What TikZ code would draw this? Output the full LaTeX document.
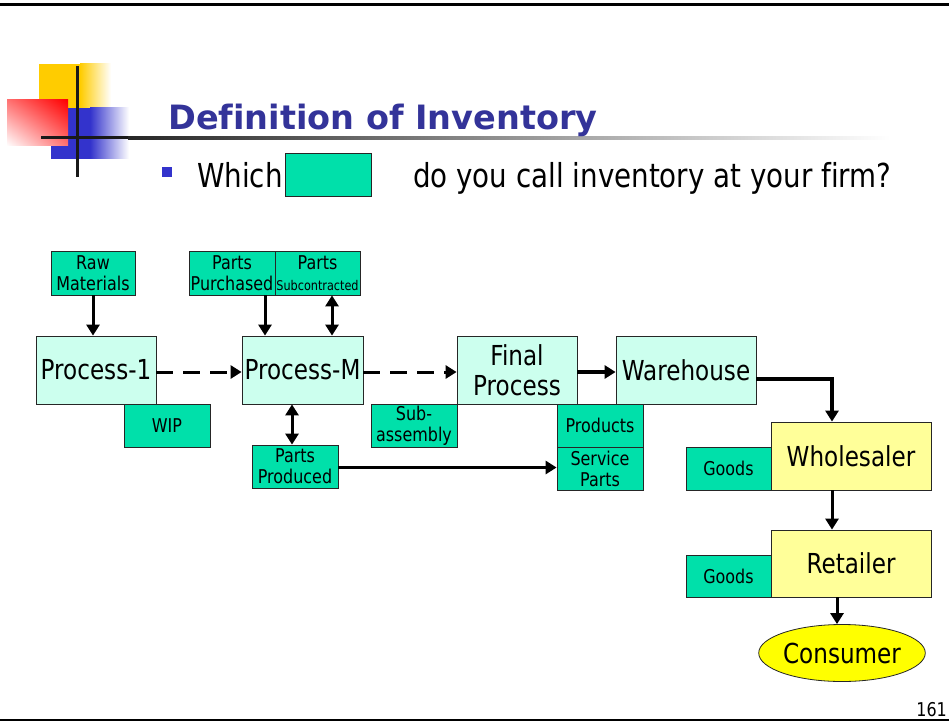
\documentclass[tikz,border=0pt]{standalone}
\usepackage{fontspec}
\setmainfont[FakeStretch=0.84,Ligatures=NoCommon]{DejaVu Sans}
\newfontfamily\titlefont[Ligatures=NoCommon]{DejaVu Sans}
\usetikzlibrary{arrows.meta,shapes.geometric,calc,shadings}
\definecolor{boxgreen}{RGB}{0,224,170}
\definecolor{proccyan}{RGB}{204,255,238}
\definecolor{tradeyellow}{RGB}{255,255,153}
\definecolor{consyellow}{RGB}{255,255,0}
\definecolor{titleblue}{RGB}{51,51,153}
\definecolor{decoblue}{RGB}{51,51,204}
\definecolor{decoyellow}{RGB}{255,204,0}
\definecolor{decored}{RGB}{255,0,0}
\tikzset{
  invbox/.style={draw=black!85, line width=0.8pt, fill=boxgreen, inner sep=0pt, align=center,
     font=\fontsize{19}{21}\selectfont},
  procbox/.style={draw=black!85, line width=0.8pt, fill=proccyan, inner sep=0pt, align=center,
     minimum width=120pt, minimum height=68pt, font=\fontsize{27.5}{30}\selectfont},
  tradebox/.style={draw=black!85, line width=0.8pt, fill=tradeyellow, inner sep=0pt, align=center,
     minimum width=160pt, minimum height=68pt, font=\fontsize{27.5}{30}\selectfont},
  flowarrow/.style={line width=3pt, -{Triangle[length=11pt,width=13pt]}},
  botharrow/.style={line width=3pt, {Triangle[length=11pt,width=13pt]}-{Triangle[length=11pt,width=13pt]}},
  dasharrow/.style={flowarrow, dash pattern=on 17pt off 10pt},
}
\begin{document}
\begin{tikzpicture}[x=1pt,y=-1pt]
\useasboundingbox (0,0) rectangle (949,722);
\fill[white] (0,0) rectangle (949,722);
% top and bottom rules
\draw[line width=3pt, black] (0,4.5) -- (949,4.5);
\draw[line width=1.2pt, black] (0,720) -- (949,720);
\node[anchor=base east, font=\fontsize{19}{21}\selectfont, inner sep=0pt] (pagenum) at (947,716) {161};
% decoration
\fill[decoyellow] (39,64) rectangle (80,108);
\shade[left color=decoyellow, right color=white] (80,64) rectangle (111,108);
\fill[decoblue] (51,108) rectangle (90,159);
\shade[left color=decoblue, right color=white] (90,108) rectangle (129,159);
\shade[upper right=decored, lower left=white, upper left=decored!55!white, lower right=decored!55!white] (7,100) rectangle (68,146);
\shade[left color=black!85, right color=white] (128,136.5) rectangle (890,139.5);
\fill[black!90] (41,136.5) rectangle (128,139.5);
\draw[line width=3pt, black!90] (77,66) -- (77,177);
% title
\node[anchor=base west, inner sep=0pt, text=titleblue, font=\titlefont\bfseries\fontsize{33.5}{38}\selectfont] (title) at (168,130) {Definition of Inventory};
\fill[decoblue] (162,167) rectangle (172,177);
\node[anchor=base west, inner sep=0pt, font=\fontsize{33}{36}\selectfont] (which) at (197,187) {Which};
\node[invbox, minimum width=86pt, minimum height=43pt] (whichbox) at (328,174.5) {};
\node[anchor=base west, inner sep=0pt, font=\fontsize{33}{36}\selectfont] (question) at (413,187) {do you call inventory at your firm?};
% inventory boxes
\node[invbox, minimum width=84pt, minimum height=44pt] (raw) at (93,273) {Raw\\Materials};
\node[invbox, minimum width=86pt, minimum height=44pt] (purch) at (232,273) {Parts\\Purchased};
\node[invbox, minimum width=85pt, minimum height=44pt] (subc) at (317.5,273) {Parts\\{\fontsize{13.4}{15}\selectfont Subcontracted}};
\node[procbox] (p1) at (96,370) {Process-1};
\node[invbox, minimum width=86pt, minimum height=43pt] (wip) at (167,425.5) {WIP};
\node[procbox, minimum width=121pt] (pm) at (302.5,370) {Process-M};
\node[invbox, minimum width=86pt, minimum height=43pt] (pprod) at (295,466.5) {Parts\\Produced};
\node[invbox, minimum width=86pt, minimum height=43pt] (suba) at (414,425.5) {Sub-\\assembly};
\node[procbox] (fin) at (517,370) {Final\\Process};
\node[procbox, minimum width=140pt] (wh) at (686,370) {Warehouse};
\node[invbox, minimum width=86pt, minimum height=43pt] (prod) at (600,425.5) {Products};
\node[invbox, minimum width=86pt, minimum height=43pt] (serv) at (600,468.5) {Service\\Parts};
\node[tradebox] (whol) at (851,456) {Wholesaler};
\node[invbox, minimum width=85pt, minimum height=43pt] (goods1) at (728.5,468.5) {Goods};
\node[tradebox, minimum height=67pt] (ret) at (851,563.5) {Retailer};
\node[invbox, minimum width=85pt, minimum height=42pt] (goods2) at (728.5,576) {Goods};
\node[ellipse, draw=black!85, line width=0.8pt, fill=consyellow, inner sep=0pt,
      minimum width=140pt, minimum height=57pt, font=\fontsize{27.5}{30}\selectfont] (cons) at (842,653) {Consumer};
% connectors
\draw[flowarrow] (raw.south) -- (raw.south |- p1.north);
\draw[flowarrow] ([xshift=33pt]purch.south) -- ([xshift=33pt]purch.south |- pm.north);
\draw[botharrow] ([xshift=14.5pt]subc.south) -- ([xshift=14.5pt]subc.south |- pm.north);
\draw[botharrow] ([xshift=-3pt]pprod.north) -- ([xshift=-3pt]pprod.north |- pm.south);
\draw[dasharrow] ([yshift=-2pt]p1.east) -- ([yshift=-2pt]pm.west);
\draw[dasharrow] ([yshift=-2pt]pm.east) -- ([yshift=-2pt]fin.west);
\draw[flowarrow, line width=3.5pt] ([yshift=-2pt]fin.east) -- ([yshift=-2pt]wh.west);
\draw[flowarrow, line width=4pt] ([yshift=-9pt]wh.east) -| ([xshift=-19pt]whol.north);
\draw[flowarrow] ([yshift=-1pt]pprod.east) -- ([yshift=-1pt]pprod.east -| serv.west);
\draw[flowarrow] ([xshift=-19pt]whol.south) -- ([xshift=-19pt]ret.north);
\draw[flowarrow] ([xshift=-14pt]ret.south) -- ([xshift=-14pt]ret.south |- cons.north);
\end{tikzpicture}
\end{document}
